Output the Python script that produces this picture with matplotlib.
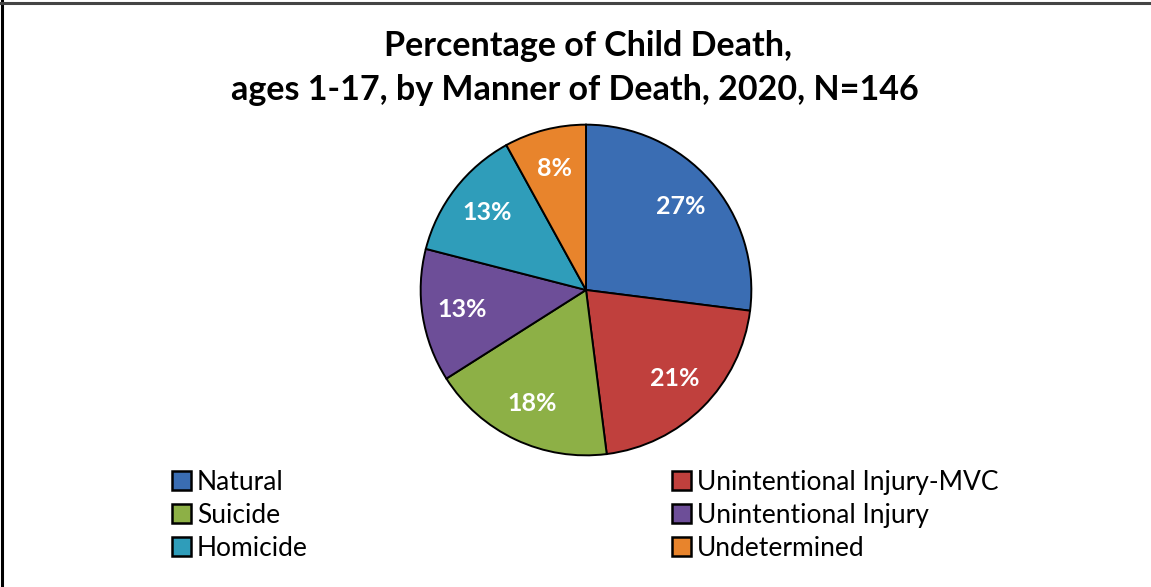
import matplotlib
matplotlib.use("Agg")
import matplotlib.pyplot as plt
from matplotlib.patches import Patch
from matplotlib.lines import Line2D

categories = ["Natural", "Unintentional Injury-MVC", "Suicide",
              "Unintentional Injury", "Homicide", "Undetermined"]
values = [27, 21, 18, 13, 13, 8]
colors = ["#3A6DB3", "#C0403D", "#8DB046", "#6D4E98", "#2F9DBA", "#E8842C"]
title_lines = ["Percentage of Child Death,",
               "ages 1-17, by Manner of Death, 2020, N=146"]

plt.rcParams['font.family'] = ['Lato', 'DejaVu Sans']

W, H = 1151, 587
fig = plt.figure(figsize=(W / 100, H / 100), dpi=100)
fig.patch.set_facecolor("white")

# pie axes: center (586,290), radius 167 px
r = 167
cx, cy = 586, 290
ax = fig.add_axes([(cx - r) / W, 1 - (cy + r) / H, 2 * r / W, 2 * r / H])
wedges, texts, autotexts = ax.pie(
    values, colors=colors, startangle=90, counterclock=False,
    autopct=lambda p: f"{p:.0f}%", pctdistance=0.76, radius=1.0,
    wedgeprops=dict(edgecolor="black", linewidth=1.4),
    textprops=dict(color="white", fontsize=18, fontweight="bold"))
ax.set_xlim(-1.01, 1.01)
ax.set_ylim(-1.01, 1.01)
ax.set_aspect("equal")

fig.text(588 / W, 1 - 46 / H, title_lines[0], ha="center", va="center",
         fontsize=24.5, fontweight="bold")
fig.text(575 / W, 1 - 90 / H, title_lines[1], ha="center", va="center",
         fontsize=24.5, fontweight="bold")

def handle(c):
    return Patch(facecolor=c, edgecolor="black", linewidth=1.8)

left_idx = [0, 2, 4]
right_idx = [1, 3, 5]
common = dict(frameon=False, fontsize=19, handlelength=0.72, handleheight=0.72,
              handletextpad=0.22, labelspacing=0.3, borderpad=0, borderaxespad=0)
leg1 = fig.legend([handle(colors[i]) for i in left_idx],
                  [categories[i] for i in left_idx],
                  loc="upper left", bbox_to_anchor=(172 / W, 1 - 470 / H), **common)
leg2 = fig.legend([handle(colors[i]) for i in right_idx],
                  [categories[i] for i in right_idx],
                  loc="upper left", bbox_to_anchor=(672 / W, 1 - 470 / H), **common)

# frame lines on left and top edges
fig.add_artist(Line2D([1.5 / W, 1.5 / W], [0, 1], color="black", linewidth=2.2,
                      transform=fig.transFigure))
fig.add_artist(Line2D([0, 1], [1 - 2.5 / H, 1 - 2.5 / H], color="#444444",
                      linewidth=2.2, transform=fig.transFigure))

fig.savefig("out.png", dpi=100, facecolor="white")
